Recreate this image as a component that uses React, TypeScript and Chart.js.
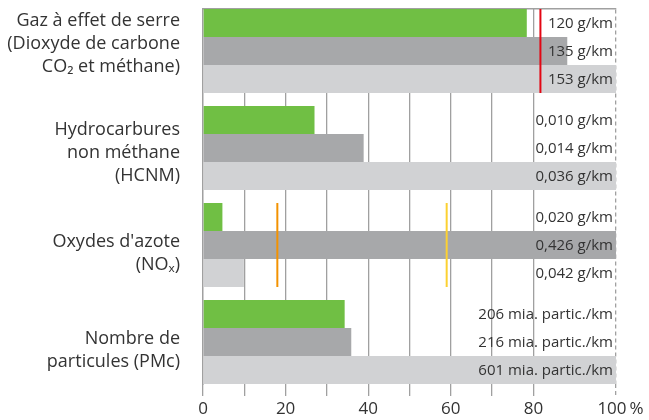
import React, { useEffect, useRef } from 'react';
import { Chart, registerables } from 'chart.js';
Chart.register(...registerables);

const categories: string[][] = [
  ['Gaz à effet de serre', '(Dioxyde de carbone', 'CO₂ et méthane)'],
  ['Hydrocarbures', 'non méthane', '(HCNM)'],
  ["Oxydes d'azote", '(NOₓ)'],
  ['Nombre de', 'particules (PMc)'],
];
const groupIndex = [0, 1, 2, 3];

// values in % of the largest value of each group
const greenValues = [78.4, 27.0, 4.7, 34.3];
const darkValues = [88.2, 38.9, 100, 35.9];
const lightValues = [100, 100, 9.9, 100];

const greenLabels = ['120 g/km', '0,010 g/km', '0,020 g/km', '206 mia. partic./km'];
const darkLabels = ['135 g/km', '0,014 g/km', '0,426 g/km', '216 mia. partic./km'];
const lightLabels = ['153 g/km', '0,036 g/km', '0,042 g/km', '601 mia. partic./km'];

// limit markers: group, value (%)
const limitGroups = [0, 2, 2];
const limitValues = [81.7, 18, 59];

const xTickValues = [0, 10, 20, 30, 40, 50, 60, 70, 80, 90, 100];
const xTickLabels = ['0', '', '20', '', '40', '', '60', '', '80', '', '  100\u2009%'];

const FONT = '"Open Sans", "Noto Sans", "DejaVu Sans", sans-serif';
const GREEN = '#70bf44';
const DARK = '#a7a8aa';
const LIGHT = '#d1d2d4';
const GRID = '#a0a0a0';
const TEXT = '#333333';
const LIMIT_COLORS = ['#e30613', '#f39200', '#fcd131'];

const overlay = {
  id: 'overlay',
  afterDatasetsDraw(chart: any) {
    const ctx = chart.ctx;
    const xs = chart.scales.x;
    const metas = [0, 1, 2].map((i) => chart.getDatasetMeta(i));
    limitValues.forEach((v, k) => {
      const g = limitGroups[k];
      const top = metas[0].data[g];
      const bot = metas[2].data[g];
      const y1 = top.y - top.height / 2;
      const y2 = bot.y + bot.height / 2;
      const x = xs.getPixelForValue(v);
      ctx.save();
      ctx.strokeStyle = LIMIT_COLORS[k];
      ctx.lineWidth = 2;
      ctx.beginPath();
      ctx.moveTo(x, y1);
      ctx.lineTo(x, y2);
      ctx.stroke();
      ctx.restore();
    });
    ctx.save();
    ctx.font = `15px ${FONT}`;
    ctx.fillStyle = TEXT;
    ctx.textAlign = 'right';
    ctx.textBaseline = 'middle';
    [greenLabels, darkLabels, lightLabels].forEach((labels, i) => {
      metas[i].data.forEach((el: any, j: number) => {
        ctx.fillText(labels[j], chart.chartArea.right - 3, el.y + 1);
      });
    });
    ctx.restore();
  },
};

export default function App() {
  const ref = useRef<HTMLCanvasElement>(null);
  useEffect(() => {
    if (!ref.current) return;
    const mk = (vals: number[]) => vals.map((v, i) => ({ x: v, y: groupIndex[i] }));
    const chart = new Chart(ref.current, {
      type: 'bar',
      data: {
        datasets: [
          { data: mk(greenValues), backgroundColor: GREEN },
          { data: mk(darkValues), backgroundColor: DARK },
          { data: mk(lightValues), backgroundColor: LIGHT },
        ] as any,
      },
      plugins: [overlay],
      options: {
        animation: false,
        responsive: false,
        indexAxis: 'y',
        layout: { padding: { right: 33, left: 0, top: 0, bottom: 0 } },
        datasets: { bar: { categoryPercentage: 0.866, barPercentage: 1 } },
        plugins: { legend: { display: false }, tooltip: { enabled: false } },
        scales: {
          x: {
            type: 'linear',
            position: 'bottom',
            min: 0,
            max: 100,
            offset: false,
            afterBuildTicks: (s: any) => {
              s.ticks = xTickValues.map((v) => ({ value: v }));
            },
            afterFit: (s: any) => {
              s.height = 36;
            },
            border: { display: false },
            grid: {
              offset: false,
              color: (c: any) =>
                c.tick && (c.tick.value === 0 || c.tick.value >= 90) ? 'rgba(0,0,0,0)' : GRID,
              lineWidth: 1.3,
              tickColor: (c: any) => (c.tick && c.tick.value === 90 ? 'rgba(0,0,0,0)' : GRID),
              tickLength: 12,
              tickWidth: 1.3,
              tickBorderDash: (c: any) => (c.tick && c.tick.value === 100 ? [4, 3] : []),
            },
            ticks: {
              autoSkip: false,
              maxRotation: 0,
              padding: 3,
              color: TEXT,
              font: { family: FONT, size: 17 },
              callback: (_v: any, i: number) => xTickLabels[i],
            },
          },
          x2: {
            type: 'linear',
            axis: 'x',
            position: 'top',
            min: 0,
            max: 100,
            offset: false,
            afterBuildTicks: (s: any) => {
              s.ticks = [{ value: 100 }];
            },
            afterFit: (s: any) => {
              s.height = 9;
              s.paddingLeft = 0;
              s.paddingRight = 0;
            },
            ticks: { display: false },
            grid: { drawTicks: false, color: GRID, lineWidth: 1.3, offset: false },
            border: { display: true, color: GRID, width: 1.5, dash: [4, 3] },
          },
          y: {
            type: 'linear',
            reverse: true,
            min: -0.433,
            max: 3.433,
            offset: false,
            afterBuildTicks: (s: any) => {
              s.ticks = [-0.07, 1.05, 2.09, 3.09].map((v) => ({ value: v }));
            },
            afterFit: (s: any) => {
              s.width = 203;
              s.paddingTop = 0;
              s.paddingBottom = 0;
            },
            grid: { display: false, offset: false },
            border: { display: true, color: GRID, width: 1.5 },
            ticks: {
              padding: 15,
              color: TEXT,
              font: { family: FONT, size: 18, lineHeight: 1.28 },
              callback: (_v: any, i: number) => categories[i],
            },
          },
        } as any,
      },
    });
    return () => chart.destroy();
  }, []);
  return (
    <div style={{ position: 'fixed', left: 0, top: 0, width: 649, height: 420, background: '#fff' }}>
      <canvas ref={ref} width={649} height={420} style={{ display: 'block' }} />
    </div>
  );
}
